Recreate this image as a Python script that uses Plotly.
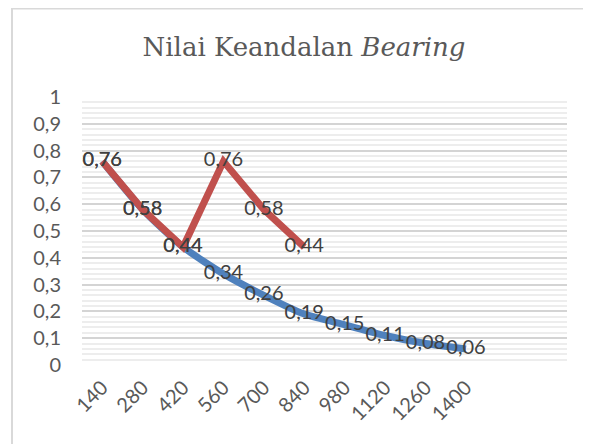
import plotly.graph_objects as go

categories = ["140", "280", "420", "560", "700", "840", "980", "1120", "1260", "1400"]
blue_values = [0.76, 0.58, 0.44, 0.34, 0.26, 0.19, 0.15, 0.11, 0.08, 0.06]
red_values = [0.76, 0.58, 0.44, 0.76, 0.58, 0.44]
y_ticks = [0, 0.1, 0.2, 0.3, 0.4, 0.5, 0.6, 0.7, 0.8, 0.9, 1]

BLUE = "#4F81BD"
RED = "#C0504D"
LABEL_FONT = dict(family="Lato", size=20, color="#404040")
TICK_FONT = dict(family="Lato", size=20, color="#595959")

fig = go.Figure()
fig.add_trace(go.Scatter(x=categories, y=blue_values, mode="lines",
                         line=dict(color=BLUE, width=7, shape="spline", smoothing=0.6),
                         hoverinfo="skip", showlegend=False))
fig.add_trace(go.Scatter(x=categories[:len(red_values)], y=red_values, mode="lines",
                         line=dict(color=RED, width=7),
                         hoverinfo="skip", showlegend=False))
fig.add_trace(go.Scatter(x=categories, y=blue_values, mode="text",
                         texttemplate="%{y:.2f}", textposition="middle center",
                         textfont=LABEL_FONT, showlegend=False))
fig.add_trace(go.Scatter(x=categories[:len(red_values)], y=red_values, mode="text",
                         texttemplate="%{y:.2f}", textposition="middle center",
                         textfont=LABEL_FONT, showlegend=False))

OFF = 8  # page body margin
W, H = 591 - OFF, 444 - OFF
L, R, T, B = 82 - OFF, 591 - 567, 97 - OFF, 444 - 365
pw, ph = W - L - R, H - T - B

def px(xp):
    return (xp - OFF - L) / pw

def py(yp):
    return (H - B - (yp - OFF)) / ph

fig.update_layout(
    width=W, height=H,
    margin=dict(l=L, r=R, t=T, b=B),
    paper_bgcolor="white", plot_bgcolor="white",
    separators=",.",
    title=dict(text="Nilai Keandalan <i>Bearing</i>",
               font=dict(family="DejaVu Serif", size=26, color="#595959"),
               x=px(304), xref="paper", xanchor="center",
               y=1 - (47 - OFF) / H, yanchor="middle"),
    xaxis=dict(type="category", categoryorder="array", categoryarray=categories,
               range=[-0.5, 11.5], tickangle=-45, showgrid=False, zeroline=False,
               showline=False, ticks="", ticklabelstandoff=6,
               tickfont=TICK_FONT),
    yaxis=dict(range=[0, 1.0], tickvals=y_ticks, showgrid=True,
               gridcolor="#D4D4D4", gridwidth=2, zeroline=False,
               showline=False, ticks="", ticklabelstandoff=20,
               minor=dict(dtick=0.02, showgrid=True, gridcolor="#EDEDED", gridwidth=1.5),
               tickfont=TICK_FONT),
    shapes=[dict(type="rect", xref="paper", yref="paper",
                 x0=px(12), x1=px(600), y0=py(460), y1=py(8.5),
                 line=dict(color="#D9D9D9", width=2), fillcolor="rgba(0,0,0,0)",
                 layer="below")],
)

fig.write_html("out.html")
